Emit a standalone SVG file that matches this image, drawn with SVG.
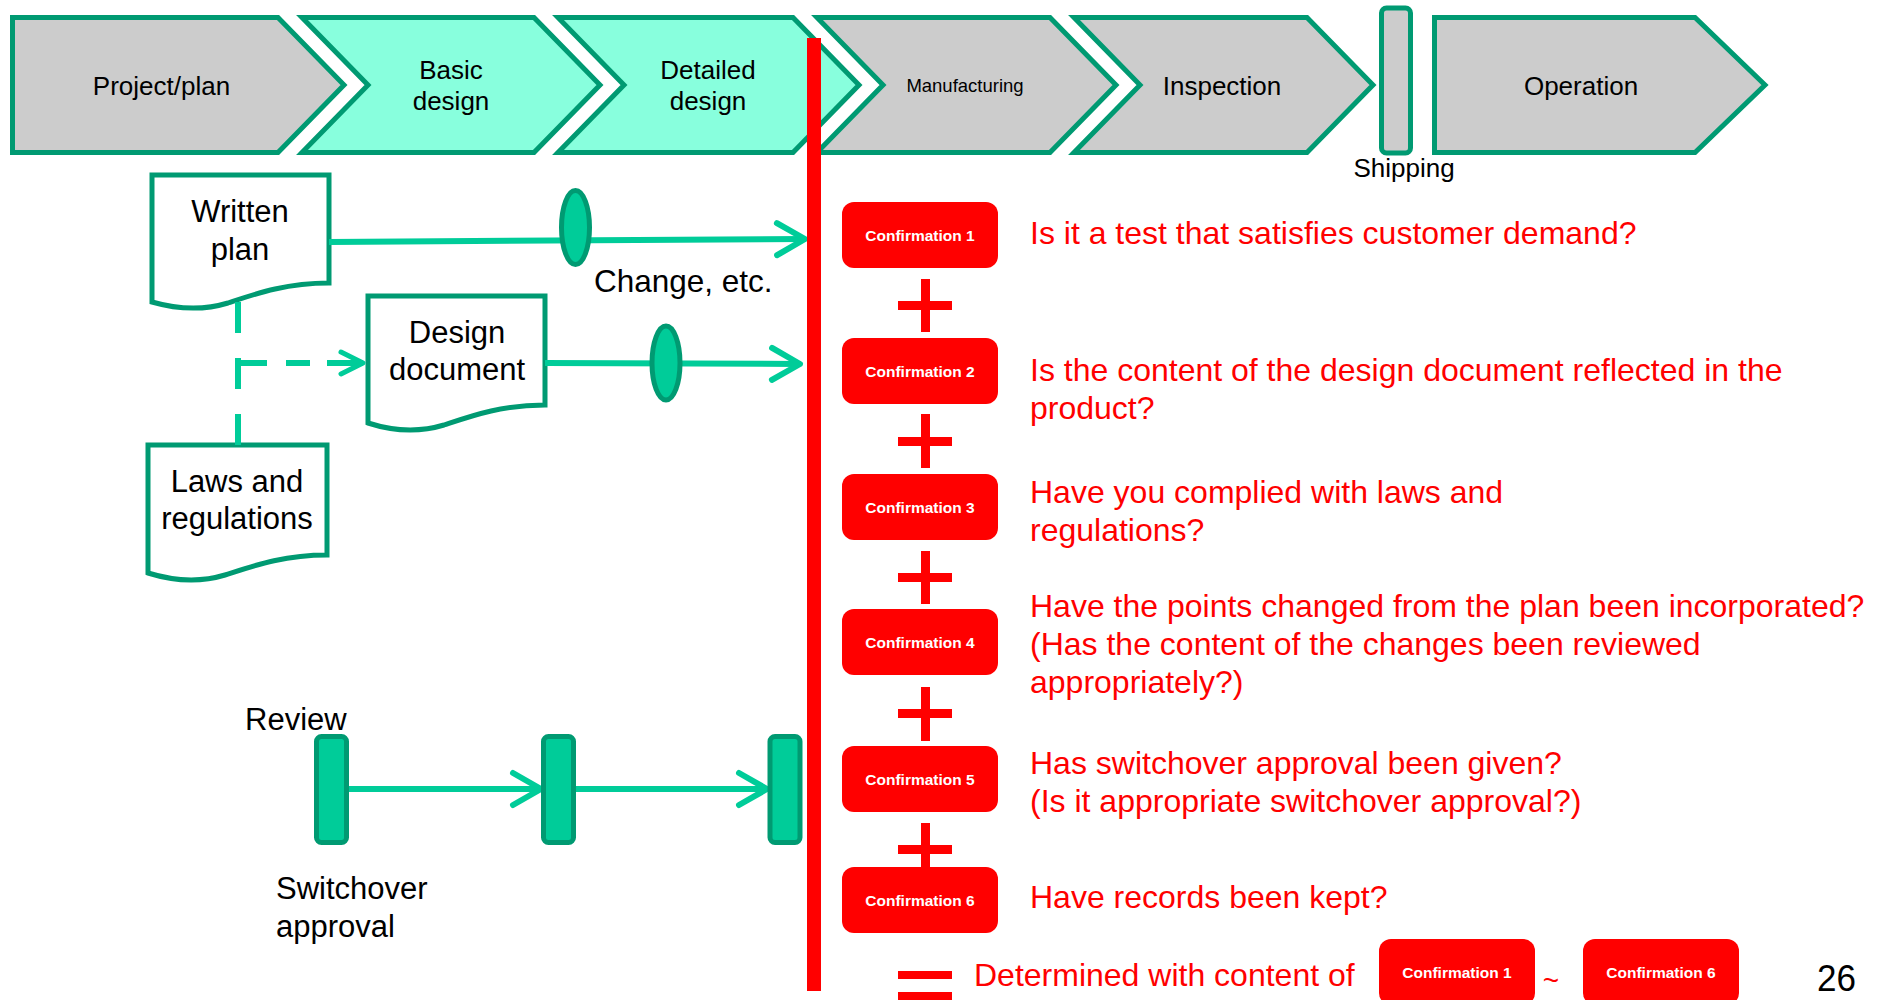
<svg xmlns="http://www.w3.org/2000/svg" width="1883" height="1000" viewBox="0 0 1883 1000">
<defs>
<style>
.chev{stroke:#009A72;stroke-width:5;stroke-linejoin:miter}
.grey{fill:#CCCCCC}
.mint{fill:#88FFDD}
.lbl{font-family:"Liberation Sans",Arial,sans-serif;fill:#000}
.doc{fill:#FFFFFF;stroke:#009A72;stroke-width:5;stroke-linejoin:miter}
.gate{fill:#00CC99;stroke:#009A72;stroke-width:5}
.conn{fill:none;stroke:#00CC99;stroke-width:6}
.conf{fill:#FF0000}
.ctext{font-family:"Liberation Sans",Arial,sans-serif;font-weight:bold;font-size:15.5px;fill:#FFFFFF;text-anchor:middle}
.q{font-family:"Liberation Sans",Arial,sans-serif;font-size:32px;fill:#FF0000}
.op{fill:#FF0000}
</style>
<marker id="ah" markerUnits="userSpaceOnUse" markerWidth="60" markerHeight="60" viewBox="-40 -30 60 60" refX="0" refY="0" orient="auto" overflow="visible">
<path d="M-28,-16 L0,0 L-28,16" fill="none" stroke="#00CC99" stroke-width="6" stroke-linecap="round" stroke-linejoin="round"/>
</marker>
<marker id="ahs" markerUnits="userSpaceOnUse" markerWidth="60" markerHeight="60" viewBox="-40 -30 60 60" refX="0" refY="0" orient="auto" overflow="visible">
<path d="M-22,-11 L0,0 L-22,11" fill="none" stroke="#00CC99" stroke-width="5" stroke-linecap="round" stroke-linejoin="round"/>
</marker>
</defs>

<!-- phase chevrons -->
<g id="phase-project">
<polygon class="chev grey" points="12.5,17.5 278,17.5 344,85 278,152.5 12.5,152.5"/>
<text class="lbl" x="161.5" y="95" font-size="26" text-anchor="middle">Project/plan</text>
</g>
<g id="phase-basic">
<polygon class="chev mint" points="302,17.5 534,17.5 600,85 534,152.5 302,152.5 368,85"/>
<text class="lbl" x="451" y="79" font-size="26" text-anchor="middle">Basic</text>
<text class="lbl" x="451" y="110" font-size="26" text-anchor="middle">design</text>
</g>
<g id="phase-detailed">
<polygon class="chev mint" points="558,17.5 793,17.5 859,85 793,152.5 558,152.5 624,85"/>
<text class="lbl" x="708" y="79" font-size="26" text-anchor="middle">Detailed</text>
<text class="lbl" x="708" y="110" font-size="26" text-anchor="middle">design</text>
</g>
<g id="phase-manufacturing">
<polygon class="chev grey" points="817,17.5 1050,17.5 1116,85 1050,152.5 817,152.5 883,85"/>
<text class="lbl" x="965" y="92" font-size="18.5" text-anchor="middle">Manufacturing</text>
</g>
<g id="phase-inspection">
<polygon class="chev grey" points="1074,17.5 1307,17.5 1373,85 1307,152.5 1074,152.5 1140,85"/>
<text class="lbl" x="1222" y="95" font-size="26" text-anchor="middle">Inspection</text>
</g>
<g id="phase-shipping">
<rect class="chev grey" x="1381.5" y="8" width="29" height="145" rx="5"/>
<text class="lbl" x="1404" y="177" font-size="26" text-anchor="middle">Shipping</text>
</g>
<g id="phase-operation">
<polygon class="chev grey" points="1434.5,17.5 1695,17.5 1765,85 1695,152.5 1434.5,152.5"/>
<text class="lbl" x="1581" y="95" font-size="26" text-anchor="middle">Operation</text>
</g>

<!-- documents -->
<g id="doc-written-plan">
<path class="doc" d="M152,175 H329 V283 C285,283 255,294 228,303 C205,310 180,310 152,302 Z"/>
<text class="lbl" x="240" y="222" font-size="31" text-anchor="middle">Written</text>
<text class="lbl" x="240" y="260" font-size="31" text-anchor="middle">plan</text>
</g>
<g id="doc-design-document">
<path class="doc" d="M368,296 H545 V405 C501,405 471,416 444,425 C421,432 396,432 368,423 Z"/>
<text class="lbl" x="457" y="343" font-size="31" text-anchor="middle">Design</text>
<text class="lbl" x="457" y="380" font-size="31" text-anchor="middle">document</text>
</g>
<g id="doc-laws">
<path class="doc" d="M148,445 H327 V555 C283,555 253,566 225,575 C202,582 177,582 148,573 Z"/>
<text class="lbl" x="237" y="492" font-size="31" text-anchor="middle">Laws and</text>
<text class="lbl" x="237" y="529" font-size="31" text-anchor="middle">regulations</text>
</g>

<!-- connectors -->
<g id="connectors">
<path class="conn" d="M329,242 L805,239" marker-end="url(#ah)"/>
<path class="conn" d="M545,363 L800,364" marker-end="url(#ah)"/>
<path class="conn" d="M238,302 V445" stroke-dasharray="31 25"/>
<path class="conn" d="M241,363 H363" stroke-width="5" stroke-dasharray="26 19 24 17 36" marker-end="url(#ahs)"/>
<path class="conn" d="M347,789 L541,789" marker-end="url(#ah)"/>
<path class="conn" d="M574,789 L767,789" marker-end="url(#ah)"/>
</g>

<!-- gates on lines -->
<g id="gate-change-1"><ellipse class="gate" cx="575.5" cy="227.5" rx="14" ry="37"/></g>
<g id="gate-change-2"><ellipse class="gate" cx="666" cy="363" rx="14" ry="37"/></g>
<text class="lbl" x="594" y="292" font-size="31.5">Change, etc.</text>

<!-- review bars -->
<g id="review-1"><rect class="gate" x="316.5" y="736.5" width="30" height="106" rx="5"/></g>
<g id="review-2"><rect class="gate" x="543.5" y="736.5" width="30" height="106" rx="5"/></g>
<g id="review-3"><rect class="gate" x="770" y="736.5" width="30" height="106" rx="5"/></g>
<text class="lbl" x="245" y="730" font-size="31">Review</text>
<text class="lbl" x="276" y="899" font-size="31">Switchover</text>
<text class="lbl" x="276" y="937" font-size="31">approval</text>

<!-- red cut-off line -->
<rect id="cutline" x="807" y="38" width="14" height="953" fill="#FF0000"/>

<!-- confirmations -->
<g id="conf-1"><rect class="conf" x="842" y="202" width="156" height="66" rx="12"/><text class="ctext" x="920" y="240.5">Confirmation 1</text></g>
<g id="conf-2"><rect class="conf" x="842" y="338" width="156" height="66" rx="12"/><text class="ctext" x="920" y="376.5">Confirmation 2</text></g>
<g id="conf-3"><rect class="conf" x="842" y="474" width="156" height="66" rx="12"/><text class="ctext" x="920" y="512.5">Confirmation 3</text></g>
<g id="conf-4"><rect class="conf" x="842" y="609" width="156" height="66" rx="12"/><text class="ctext" x="920" y="647.5">Confirmation 4</text></g>
<g id="conf-5"><rect class="conf" x="842" y="746" width="156" height="66" rx="12"/><text class="ctext" x="920" y="784.5">Confirmation 5</text></g>
<g id="conf-6"><rect class="conf" x="842" y="867" width="156" height="66" rx="12"/><text class="ctext" x="920" y="905.5">Confirmation 6</text></g>

<g id="operators">
<rect class="op" x="921" y="279" width="9" height="53"/><rect class="op" x="898" y="301" width="54" height="9"/>
<rect class="op" x="921" y="414" width="9" height="54"/><rect class="op" x="898" y="437" width="54" height="9"/>
<rect class="op" x="921" y="551" width="9" height="53"/><rect class="op" x="898" y="573" width="54" height="9"/>
<rect class="op" x="921" y="687" width="9" height="54"/><rect class="op" x="898" y="709" width="54" height="9"/>
<rect class="op" x="921" y="823" width="9" height="45"/><rect class="op" x="898" y="845" width="54" height="9"/>
<rect class="op" x="898" y="971" width="54" height="8"/><rect class="op" x="898" y="992" width="54" height="9"/>
</g>

<!-- questions -->
<g id="questions">
<text class="q" x="1030" y="244">Is it a test that satisfies customer demand?</text>
<text class="q" x="1030" y="381">Is the content of the design document reflected in the</text>
<text class="q" x="1030" y="419">product?</text>
<text class="q" x="1030" y="503">Have you complied with laws and</text>
<text class="q" x="1030" y="541">regulations?</text>
<text class="q" x="1030" y="617">Have the points changed from the plan been incorporated?</text>
<text class="q" x="1030" y="655">(Has the content of the changes been reviewed</text>
<text class="q" x="1030" y="693">appropriately?)</text>
<text class="q" x="1030" y="774">Has switchover approval been given?</text>
<text class="q" x="1030" y="812">(Is it appropriate switchover approval?)</text>
<text class="q" x="1030" y="908">Have records been kept?</text>
</g>

<!-- conclusion -->
<g id="conclusion">
<text class="q" x="974" y="986">Determined with content of</text>
<g id="conf-1b"><rect class="conf" x="1379" y="939" width="156" height="66" rx="12"/><text class="ctext" x="1457" y="978">Confirmation 1</text></g>
<text x="1551" y="990" font-family="Liberation Sans, Arial, sans-serif" font-size="28" fill="#FF0000" text-anchor="middle">~</text>
<g id="conf-6b"><rect class="conf" x="1583" y="939" width="156" height="66" rx="12"/><text class="ctext" x="1661" y="978">Confirmation 6</text></g>
</g>

<text x="1817" y="991" font-family="Liberation Sans, Arial, sans-serif" font-size="36" fill="#000" textLength="39" lengthAdjust="spacingAndGlyphs">26</text>
</svg>
